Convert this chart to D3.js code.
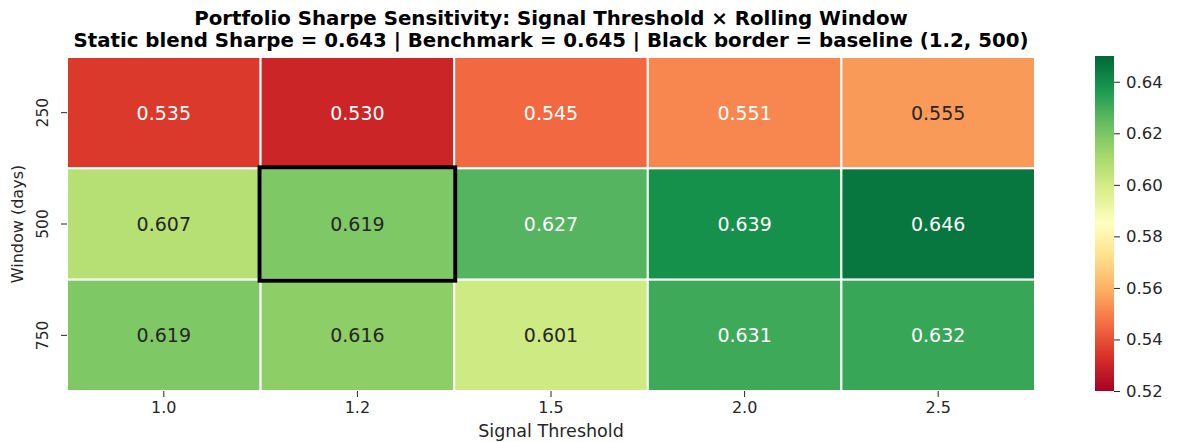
<!DOCTYPE html>
<html>
<head>
  <meta charset="utf-8" />
  <title>Sharpe sensitivity heatmap</title>
  <style>
    body { margin: 0; background: #fff; }
    svg text { font-family: "DejaVu Sans", sans-serif; fill: #262626; }
    .axis path { display: none; }
    .axis line { stroke: #262626; stroke-width: 1px; }
  </style>
  <script src="https://cdnjs.cloudflare.com/ajax/libs/d3/7.8.5/d3.min.js"></script>
</head>
<body>
  <div id="chart"></div>
  <script>
    // data
    var thresholds = ['1.0', '1.2', '1.5', '2.0', '2.5'];
    var windows = ['250', '500', '750'];
    var sharpe250 = [0.535, 0.530, 0.545, 0.551, 0.555];
    var sharpe500 = [0.607, 0.619, 0.627, 0.639, 0.646];
    var sharpe750 = [0.619, 0.616, 0.601, 0.631, 0.632];
    var colorTicks = [0.52, 0.54, 0.56, 0.58, 0.60, 0.62, 0.64];
    var baseline = { threshold: '1.2', window: '500' };
    var vmin = 0.52, vmax = 0.65;

    var rows = [sharpe250, sharpe500, sharpe750];
    var cells = [];
    rows.forEach(function (vals, r) {
      vals.forEach(function (v, c) {
        cells.push({ window: windows[r], threshold: thresholds[c], value: v });
      });
    });

    // matplotlib RdYlGn anchors
    var rdylgn = ['#a50026', '#d73027', '#f46d43', '#fdae61', '#fee08b', '#ffffbf',
      '#d9ef8b', '#a6d96a', '#66bd63', '#1a9850', '#006837'];
    var cmap = d3.scaleLinear()
      .domain(d3.range(rdylgn.length).map(i => i / (rdylgn.length - 1)))
      .range(rdylgn)
      .interpolate(d3.interpolateRgb)
      .clamp(true);
    var color = v => cmap((v - vmin) / (vmax - vmin));

    function luminance(c) {
      var rgb = d3.rgb(c);
      var lin = [rgb.r, rgb.g, rgb.b].map(function (x) {
        x = x / 255;
        return x <= 0.03928 ? x / 12.92 : Math.pow((x + 0.055) / 1.055, 2.4);
      });
      return 0.2126 * lin[0] + 0.7152 * lin[1] + 0.0722 * lin[2];
    }

    var W = 1177, H = 442;
    var margin = { top: 57, left: 67 };
    var w = 968, h = 334;

    var svg = d3.select('#chart').append('svg')
      .attr('width', W)
      .attr('height', H);

    var g = svg.append('g')
      .attr('transform', 'translate(' + margin.left + ',' + margin.top + ')');

    var xScale = d3.scaleBand().domain(thresholds).range([0, w]);
    var yScale = d3.scaleBand().domain(windows).range([0, h]);

    g.selectAll('rect.cell')
      .data(cells)
      .enter()
      .append('rect')
      .attr('class', 'cell')
      .attr('x', d => xScale(d.threshold))
      .attr('y', d => yScale(d.window))
      .attr('width', xScale.bandwidth())
      .attr('height', yScale.bandwidth())
      .attr('fill', d => color(d.value))
      .attr('stroke', '#fff')
      .attr('stroke-width', 2);

    g.selectAll('text.annot')
      .data(cells)
      .enter()
      .append('text')
      .attr('class', 'annot')
      .attr('x', d => xScale(d.threshold) + xScale.bandwidth() / 2)
      .attr('y', d => yScale(d.window) + yScale.bandwidth() / 2)
      .attr('text-anchor', 'middle')
      .attr('dominant-baseline', 'central')
      .style('font-size', '19px')
      .style('fill', d => luminance(color(d.value)) > 0.408 ? '#262626' : '#ffffff')
      .text(d => d.value.toFixed(3));

    // baseline border
    g.append('rect')
      .attr('x', xScale(baseline.threshold) - 1)
      .attr('y', yScale(baseline.window) - 1)
      .attr('width', xScale.bandwidth() + 2)
      .attr('height', yScale.bandwidth() + 2)
      .attr('fill', 'none')
      .attr('stroke', '#000')
      .attr('stroke-width', 4);

    var xAxis = d3.axisBottom(xScale).tickSizeInner(6).tickSizeOuter(0).tickPadding(5);
    g.append('g')
      .attr('class', 'axis')
      .attr('transform', 'translate(0,' + h + ')')
      .call(xAxis)
      .selectAll('text')
      .style('font-size', '16px');

    var yAxis = d3.axisLeft(yScale).tickSizeInner(6).tickSizeOuter(0).tickPadding(5);
    g.append('g')
      .attr('class', 'axis')
      .call(yAxis)
      .selectAll('text')
      .style('font-size', '15.5px')
      .attr('text-anchor', 'middle')
      .attr('dy', null)
      .attr('x', -24)
      .attr('transform', function () {
        return 'rotate(-90,' + d3.select(this).attr('x') + ',0)';
      })
      .attr('dominant-baseline', 'central');

    // axis titles
    svg.append('text')
      .attr('x', margin.left + w / 2)
      .attr('y', 437)
      .attr('text-anchor', 'middle')
      .style('font-size', '17.5px')
      .text('Signal Threshold');

    svg.append('text')
      .attr('transform', 'translate(23,' + (margin.top + h / 2) + ') rotate(-90)')
      .attr('text-anchor', 'middle')
      .style('font-size', '16px')
      .text('Window (days)');

    // title
    var title = svg.append('g');
    title.append('text')
      .attr('x', margin.left + w / 2)
      .attr('y', 25)
      .attr('text-anchor', 'middle')
      .style('font-size', '19.8px')
      .style('font-weight', 'bold')
      .style('fill', '#000')
      .text('Portfolio Sharpe Sensitivity: Signal Threshold \u00d7 Rolling Window');
    title.append('text')
      .attr('x', margin.left + w / 2)
      .attr('y', 46.5)
      .attr('text-anchor', 'middle')
      .style('font-size', '19.8px')
      .style('font-weight', 'bold')
      .style('fill', '#000')
      .text('Static blend Sharpe = 0.643 | Benchmark = 0.645 | Black border = baseline (1.2, 500)');

    // colorbar
    var cbX = 1095, cbW = 19, cbTop = 56, cbH = 335;
    var defs = svg.append('defs');
    var grad = defs.append('linearGradient')
      .attr('id', 'cbGrad')
      .attr('x1', 0).attr('y1', 1).attr('x2', 0).attr('y2', 0);
    d3.range(0, 1.0001, 0.02).forEach(function (t) {
      grad.append('stop')
        .attr('offset', t)
        .attr('stop-color', cmap(t));
    });
    svg.append('rect')
      .attr('x', cbX)
      .attr('y', cbTop)
      .attr('width', cbW)
      .attr('height', cbH)
      .attr('fill', 'url(#cbGrad)');

    var cScale = d3.scaleLinear().domain([vmin, vmax]).range([cbTop + cbH, cbTop]);
    var cAxis = d3.axisRight(cScale)
      .tickValues(colorTicks)
      .tickFormat(d3.format('.2f'))
      .tickSizeInner(6)
      .tickSizeOuter(0)
      .tickPadding(6);
    svg.append('g')
      .attr('class', 'axis')
      .attr('transform', 'translate(' + (cbX + cbW) + ',0)')
      .call(cAxis)
      .selectAll('text')
      .style('font-size', '16.5px');
  </script>
</body>
</html>
